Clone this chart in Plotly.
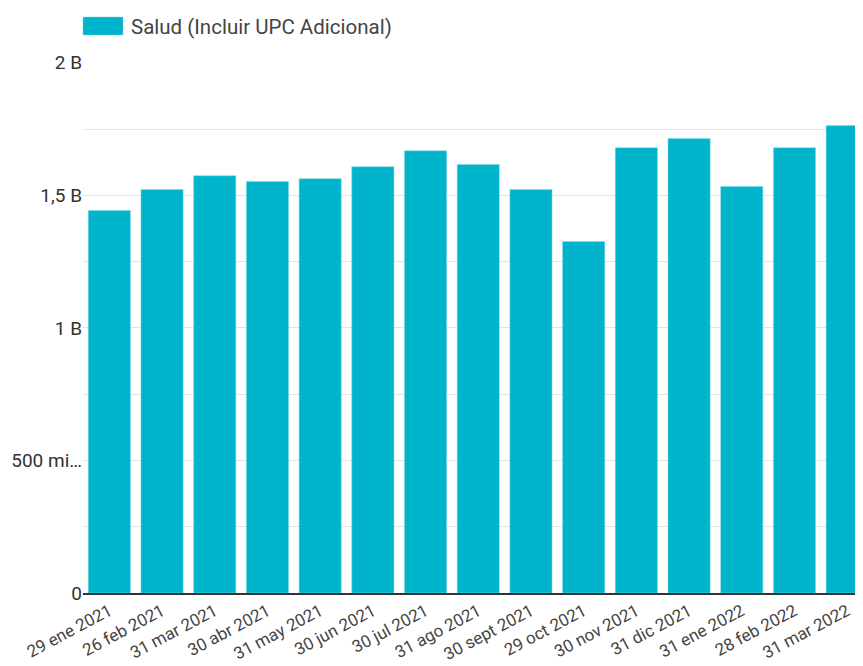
import plotly.graph_objects as go

categories = ["29 ene 2021", "26 feb 2021", "31 mar 2021", "30 abr 2021", "31 may 2021",
              "30 jun 2021", "30 jul 2021", "31 ago 2021", "30 sept 2021", "29 oct 2021",
              "30 nov 2021", "31 dic 2021", "31 ene 2022", "28 feb 2022", "31 mar 2022"]
values = [1.443e9, 1.522e9, 1.574e9, 1.552e9, 1.563e9,
          1.608e9, 1.668e9, 1.616e9, 1.522e9, 1.326e9,
          1.680e9, 1.714e9, 1.533e9, 1.680e9, 1.763e9]
series_name = "Salud (Incluir UPC Adicional)"
tick_vals = [0, 500e6, 1e9, 1.5e9, 2e9]
tick_text = ["0", "500 mi…", "1 B", "1,5 B", "2 B"]

color = "#00B4CB"

# page has an 8px body margin; compensate so plot area sits at x 83..863, y 62..593
W, H = 855, 658
ML, MT, MB, MR = 75, 54, 73, 0
PW, PH = W - ML - MR, H - MT - MB

fig = go.Figure()
fig.add_trace(go.Bar(x=categories, y=values, name=series_name, marker_color=color,
                     marker_line=dict(color="#7fdbe6", width=0.5), showlegend=False))

fig.update_layout(
    width=W, height=H,
    margin=dict(l=ML, r=MR, t=MT, b=MB, autoexpand=False),
    plot_bgcolor="white", paper_bgcolor="white",
    bargap=0.2,
    font=dict(family="Roboto", size=19, color="#444"),
)
fig.update_xaxes(
    type="category", range=[-0.5, 14.3], tickangle=-28, automargin=False,
    showgrid=False, showline=True, linecolor="#333", linewidth=1.5,
    ticks="", tickfont=dict(size=17, color="#444"),
)
fig.update_yaxes(
    range=[0, 2.003e9], tickvals=tick_vals, ticktext=tick_text, automargin=False,
    showgrid=True, gridcolor="#e3e3e3", gridwidth=1.3,
    minor=dict(dtick=250e6, tick0=0, showgrid=True, gridcolor="#e3e3e3", gridwidth=1.3),
    zeroline=False, showline=False, ticks="", ticklen=0,
    tickfont=dict(size=19, color="#333"),
)
# legend swatch + label
fig.add_shape(type="rect", xref="paper", yref="paper",
              x0=0, x1=40 / PW, y0=(593 - 35) / PH, y1=(593 - 17) / PH,
              fillcolor=color, line=dict(color="#7fdbe6", width=0.5))
fig.add_annotation(xref="paper", yref="paper", x=46 / PW, y=(593 - 27) / PH,
                   text=series_name, showarrow=False, xanchor="left", yanchor="middle",
                   font=dict(size=20.5, color="#444", family="Roboto"))

fig.write_html("out.html")
